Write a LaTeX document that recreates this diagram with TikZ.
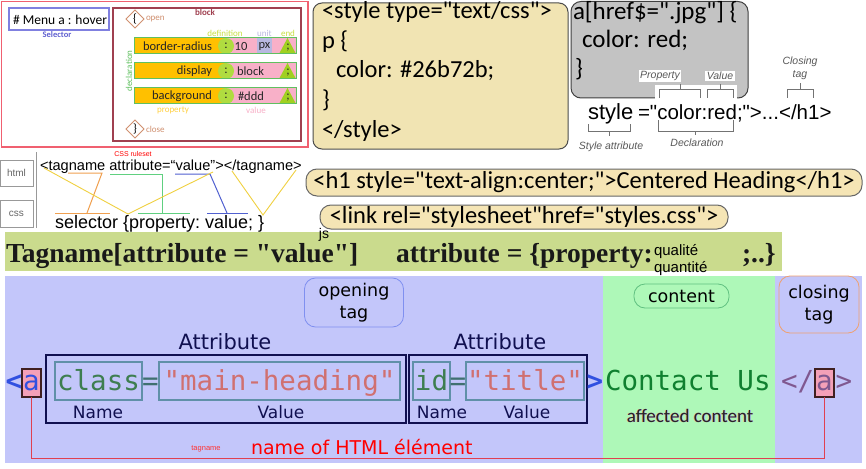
\documentclass[tikz,border=0pt]{standalone}
\usepackage{fontspec}
\setmainfont{Liberation Sans}[Ligatures=TeXOff]
\newfontfamily\fcal{Carlito}[Ligatures=TeXOff]
\newfontfamily\fdv{DejaVu Sans}[Ligatures=TeXOff]
\newfontfamily\fmono{DejaVu Sans Mono}[Ligatures=TeXOff]
\newfontfamily\fser{Liberation Serif}[Ligatures=TeXOff]
\usetikzlibrary{shapes.geometric}
\definecolor{redbox}{HTML}{F06070}
\definecolor{blockc}{HTML}{A04050}
\definecolor{selb}{HTML}{8080E0}
\definecolor{selc}{HTML}{6060D0}
\definecolor{ctan}{HTML}{D09070}
\definecolor{propy}{HTML}{FFC000}
\definecolor{propl}{HTML}{FFD040}
\definecolor{limec}{HTML}{B0DC40}
\definecolor{limet}{HTML}{A0D020}
\definecolor{pinkv}{HTML}{F8B0C8}
\definecolor{unitc}{HTML}{B8B8E0}
\definecolor{rowg}{HTML}{60C060}
\definecolor{defc}{HTML}{C8E040}
\definecolor{wheatc}{HTML}{F1E4B3}
\definecolor{greyb}{HTML}{C3C3C3}
\definecolor{pillc}{HTML}{F5E5B5}
\definecolor{bandc}{HTML}{CADB8D}
\definecolor{lavc}{HTML}{C3C6FA}
\definecolor{mintc}{HTML}{AEF8B8}
\definecolor{navyc}{HTML}{101050}
\definecolor{steelc}{HTML}{6090A8}
\definecolor{attrg}{HTML}{3E7E50}
\definecolor{valr}{HTML}{D07070}
\definecolor{eqc}{HTML}{407070}
\definecolor{tagb}{HTML}{3050E0}
\definecolor{purpc}{HTML}{805890}
\definecolor{redl}{HTML}{E04050}
\definecolor{openb}{HTML}{8090F0}
\definecolor{contb}{HTML}{60C080}
\definecolor{closb}{HTML}{F0A070}
\definecolor{pinka}{HTML}{F4A0B8}
\definecolor{brownd}{HTML}{402020}
\definecolor{conc}{HTML}{108030}
\definecolor{orl}{HTML}{F0A050}
\definecolor{grl}{HTML}{60D080}
\definecolor{bll}{HTML}{5060D0}
\definecolor{yel}{HTML}{F0D040}
\begin{document}
\begin{tikzpicture}[x=1pt,y=-1pt,
  every node/.style={inner sep=0pt,outer sep=0pt},
  lbl/.style={font=\fcal\fontsize{9}{10}\selectfont},
  rowt/.style={font=\fcal\fontsize{12.5}{14}\selectfont, text=black!85},
  codetxt/.style={font=\fcal\fontsize{24.5}{28}\selectfont, anchor=base west},
  ital/.style={font=\itshape\fontsize{10.5}{12}\selectfont, text=black!65},
  brk/.style={draw=black!55, line width=0.8pt},
  monof/.style={font=\fmono\fontsize{27.5}{30}\selectfont},
  mbox/.style={monof, draw=steelc, line width=1.2pt, text height=28pt, text depth=10pt, minimum height=38pt},
  abox/.style={monof, draw=brownd, fill=pinka, line width=1.2pt, text height=21pt, text depth=7pt, minimum width=19pt},
  dvt/.style={font=\fdv\fontsize{17.5}{22}\selectfont, align=center},
  tagbox/.style={dvt, rounded corners=11pt, line width=0.8pt},
  pill/.style={font=\fcal\fontsize{24.5}{28}\selectfont, draw=black!60, fill=pillc, rounded corners=11pt, line width=1pt, text height=18pt, text depth=6pt}
]
\useasboundingbox (0,0) rectangle (866,468);
\fill[white] (0,0) rectangle (866,468);

% ---------- top-left CSS rule figure ----------
\draw[redbox, line width=1.2pt] (1.5,1.5) rectangle (308,147);
\draw[selb, line width=1.2pt] (9,8) rectangle (109,30);
\node[font=\fcal\fontsize{13.5}{15}\selectfont, anchor=west] (menu) at (13,19.5) {\# Menu a : hover};
\node[font=\fcal\bfseries\fontsize{8.5}{10}\selectfont, text=selc] (seltxt) at (57,34.5) {Selector};
\draw[blockc, line width=1.2pt] (113,8) rectangle (301,141);
\node[lbl, font=\fcal\bfseries\fontsize{9}{10}\selectfont, text=blockc] (blk) at (205,12.5) {block};
\node[diamond, draw=ctan, line width=0.8pt, minimum size=18pt, font=\fcal\fontsize{12}{12}\selectfont] (op) at (135,19) {\{};
\node[lbl, text=ctan, anchor=west] (optxt) at (146,19.5) {open};
\node[diamond, draw=ctan, line width=0.8pt, minimum size=18pt, font=\fcal\fontsize{12}{12}\selectfont] (cl) at (135,129) {\}};
\node[lbl, text=ctan, anchor=west] (cltxt) at (146,129.5) {close};
\node[lbl, text=defc] (defn) at (225,33) {definition};
\node[lbl, text=unitc] (unitl) at (264.5,33) {unit};
\node[lbl, text=defc] (endl) at (288,33) {end};
\node[lbl, text=propl] (propl) at (173,110) {property};
\node[lbl, text=pinkv] (vall) at (256,110) {value};
\node[lbl, text=rowg, rotate=90] (declv) at (129,71) {declaration};
\foreach \ya in {38,63,88} {
  \fill[propy] (135,\ya) rectangle (226,\ya+16);
  \fill[pinkv] (226,\ya) rectangle (296,\ya+16);
  \fill[limet] (279,\ya+16) -- (296,\ya+16) -- (287.5,\ya) -- cycle;
  \fill[limec] (226,\ya+8) circle (8);
  \node[rowt] at (226,\ya+8) {:};
  \node[rowt] at (288,\ya+9.5) {;};
}
\fill[unitc] (257,38.5) rectangle (272,53.5);
\foreach \ya in {38,63,88} {
  \draw[rowg, line width=1pt] (134.5,\ya) rectangle (296,\ya+16);
}
\node[rowt, anchor=east] (p1) at (212,46) {border-radius};
\node[rowt] (v1) at (241,46) {10};
\node[rowt] (u1) at (264.5,46) {px};
\node[rowt, anchor=east] (p2) at (212,71) {display};
\node[rowt, anchor=west] (v2) at (237,71) {block};
\node[rowt, anchor=east] (p3) at (212,96) {background};
\node[rowt, anchor=west] (v3) at (238,96) {\#ddd};

% ---------- yellow style box ----------
\draw[fill=wheatc, draw=black!70, line width=1pt, rounded corners=9pt] (313,3) rectangle (568,149);
\node[codetxt] (s1) at (322,19) {<style type="text/css">};
\node[codetxt] (s2) at (322,48.5) {p \{};
\node[codetxt] (s3) at (336,78) {color: \#26b72b;};
\node[codetxt] (s4) at (322,107.5) {\}};
\node[codetxt] (s5) at (322,137) {</style>};

% ---------- grey selector box ----------
\draw[fill=greyb, draw=black!75, line width=1pt, rounded corners=10pt] (571,1.5) rectangle (748,98);
\node[codetxt, font=\fcal\fontsize{25}{28}\selectfont] (g1) at (573,20) {a[href\$=".jpg"] \{};
\node[codetxt, font=\fcal\fontsize{25}{28}\selectfont] (g2) at (582,48) {color: red;};
\node[codetxt, font=\fcal\fontsize{25}{28}\selectfont] (g3) at (575,77) {\}};

% ---------- style attribute anatomy ----------
\fill[white] (655,85) rectangle (737,99);
\node[ital, fill=white, inner sep=1.5pt] (propt) at (660,76) {Property};
\node[ital, fill=white, inner sep=1.5pt] (valt) at (720,76) {Value};
\node[ital, align=center, font=\itshape\fontsize{10.5}{13}\selectfont] (clt) at (800,68.5) {Closing\\tag};
\draw[brk] (659,98) -- (659,89) -- (700,89) -- (700,98);
\draw[brk] (680,89) -- (680,84);
\draw[brk] (707,98) -- (707,89) -- (733,89) -- (733,98);
\draw[brk] (720,89) -- (720,84);
\draw[brk] (787,98) -- (787,89) -- (813,89) -- (813,98);
\draw[brk] (800,89) -- (800,83);
\node[font=\fontsize{22}{24}\selectfont, anchor=base west] (sty) at (588,120) {style};
\node[font=\fontsize{20.5}{24}\selectfont, anchor=base west] (decl) at (638,120) {="color:red;">...</h1>};
\draw[brk] (588,124) -- (588,131) -- (630,131) -- (630,124);
\draw[brk] (609,131) -- (609,136);
\draw[brk] (658,120) -- (658,131) -- (733,131) -- (733,120);
\draw[brk] (695,131) -- (695,135);
\node[ital] (stat) at (611,147) {Style attribute};
\node[ital] (declt) at (697,143) {Declaration};

% ---------- html / css mapping ----------
\draw[black!40, line width=0.8pt] (0,160) rectangle (33,186);
\draw[black!40, line width=0.8pt] (0,200) rectangle (33,227);
\node[font=\fontsize{10}{11}\selectfont, text=black!60] (htmlt) at (16.5,173) {html};
\node[font=\fontsize{10}{11}\selectfont, text=black!60] (csst) at (16.5,213.5) {css};
\draw[black!40, line width=0.8pt] (36,152) -- (36,228);
\node[font=\fontsize{7}{8}\selectfont, text=red] (rules) at (133,153.5) {CSS ruleset};
\node[font=\fontsize{14.6}{16}\selectfont, anchor=base west] (tagl) at (40,170) {<tagname attribute=“value”></tagname>};
\node[font=\fontsize{18}{20}\selectfont, anchor=base west] (cssl) at (55,228) {selector \{property:\ value; \}};
\draw[orl, line width=1pt] (68,173) -- (102,173) -- (87,213);
\draw[orl, line width=1pt] (55,213) -- (110,213);
\draw[grl, line width=1pt] (110,174) -- (162,174) -- (162,213);
\draw[grl, line width=1pt] (138,213) -- (190,213);
\draw[bll, line width=1pt] (175,174) -- (210,174) -- (227,213);
\draw[bll, line width=1pt] (207,213) -- (248,213);
\draw[yel, line width=0.9pt] (44,168) -- (128,214) -- (213,172);
\draw[yel, line width=0.9pt] (232,171) -- (263,215) -- (296,170);

% ---------- pills ----------
\node[pill, minimum width=556pt, minimum height=27pt] (h1p) at (584,182.5) {<h1 style="text-align:center;">Centered Heading</h1>};
\node[pill, minimum width=408pt, minimum height=24pt] (linkp) at (524,217) {<link rel="stylesheet"href="styles.css">};

% ---------- green band ----------
\fill[bandc] (5,232) rectangle (782,271);
\node[font=\fser\bfseries\fontsize{27.5}{30}\selectfont, anchor=base west, text=black!90] (tn) at (6,262) {Tagname[attribute = "value"]};
\node[font=\fser\bfseries\fontsize{27.5}{30}\selectfont, anchor=base west, text=black!90] (ap) at (396,262) {attribute = \{property:};
\node[font=\fser\bfseries\fontsize{27.5}{30}\selectfont, anchor=base west, text=black!90] (endb) at (742,262) {;..\}};
\node[font=\fontsize{15}{16}\selectfont, anchor=base west] (ql) at (654,255) {qualité};
\node[font=\fontsize{15}{16}\selectfont, anchor=base west] (qn) at (654,272) {quantité};
\node[font=\fontsize{14}{15}\selectfont] (js) at (324,234.5) {js};

% ---------- HTML element anatomy ----------
\fill[lavc] (5,276) rectangle (862,463);
\fill[mintc] (603,276) rectangle (775,463);
\node[tagbox, draw=openb, minimum width=99pt, minimum height=49pt] (opening) at (354,302.5) {opening\\tag};
\node[tagbox, draw=contb, minimum width=95pt, minimum height=24pt] (content) at (681.5,296) {content};
\node[tagbox, draw=closb, minimum width=80pt, minimum height=57pt] (closing) at (819,304.5) {closing\\tag};
\node[font=\fdv\fontsize{21}{24}\selectfont, text=navyc] (at1) at (225,342) {Attribute};
\node[font=\fdv\fontsize{21}{24}\selectfont, text=navyc] (at2) at (500,342) {Attribute};
\draw[navyc, line width=1.5pt] (46,355) rectangle (406,423);
\draw[navyc, line width=1.5pt] (409,355) rectangle (587,423);
\node[monof, font=\fmono\bfseries\fontsize{27.5}{30}\selectfont, text=tagb, anchor=base] (lt) at (14,390) {<};
\node[abox, text=tagb] (a1) at (31.5,383) {a};
\node[mbox, text=attrg, minimum width=87pt] (cls) at (98.5,381) {class};
\node[monof, text=eqc, anchor=base] (eq1) at (150.5,390) {=};
\node[mbox, text=valr, minimum width=241pt] (mh) at (279.5,381) {"main-heading"};
\node[mbox, text=attrg, minimum width=37pt] (idb) at (431.5,381) {id};
\node[monof, text=eqc, anchor=base] (eq2) at (458,390) {=};
\node[mbox, text=valr, minimum width=118pt] (tt) at (525,381) {"title"};
\node[monof, font=\fmono\bfseries\fontsize{27.5}{30}\selectfont, text=tagb, anchor=base] (gt) at (595,390) {>};
\node[monof, text=conc, anchor=base west] (cu) at (605,390) {Contact Us};
\node[monof, text=purpc, anchor=base west] (lts) at (781,390) {</};
\node[abox, text=purpc] (a2) at (824.5,383) {a};
\node[monof, text=purpc, anchor=base west] (gt2) at (835.5,390) {>};
\node[font=\fdv\fontsize{17}{20}\selectfont, text=navyc] (n1) at (98,412) {Name};
\node[font=\fdv\fontsize{17}{20}\selectfont, text=navyc] (v1b) at (281,412) {Value};
\node[font=\fdv\fontsize{17}{20}\selectfont, text=navyc] (n2) at (442,412) {Name};
\node[font=\fdv\fontsize{17}{20}\selectfont, text=navyc] (v2b) at (527,412) {Value};
\node[font=\fcal\fontsize{19}{20}\selectfont, text=orange!60] at (689.4,416) {affected content};
\node[font=\fcal\fontsize{19}{20}\selectfont, text=blue!40] at (690.6,416) {affected content};
\node[font=\fcal\fontsize{19}{20}\selectfont, text=black!85] (aff) at (690,416) {affected content};
\coordinate (rb) at (0,458);
\draw[redl, line width=1pt] (a1.south) -- (a1.south |- rb) -| (a2.south);
\node[font=\fontsize{7.5}{8}\selectfont, text=red!80] (tgn) at (206,449) {tagname};
\node[font=\fdv\fontsize{19}{22}\selectfont, text=red, anchor=west] (nhe) at (251,447) {name of HTML élément};
\end{tikzpicture}
\end{document}
